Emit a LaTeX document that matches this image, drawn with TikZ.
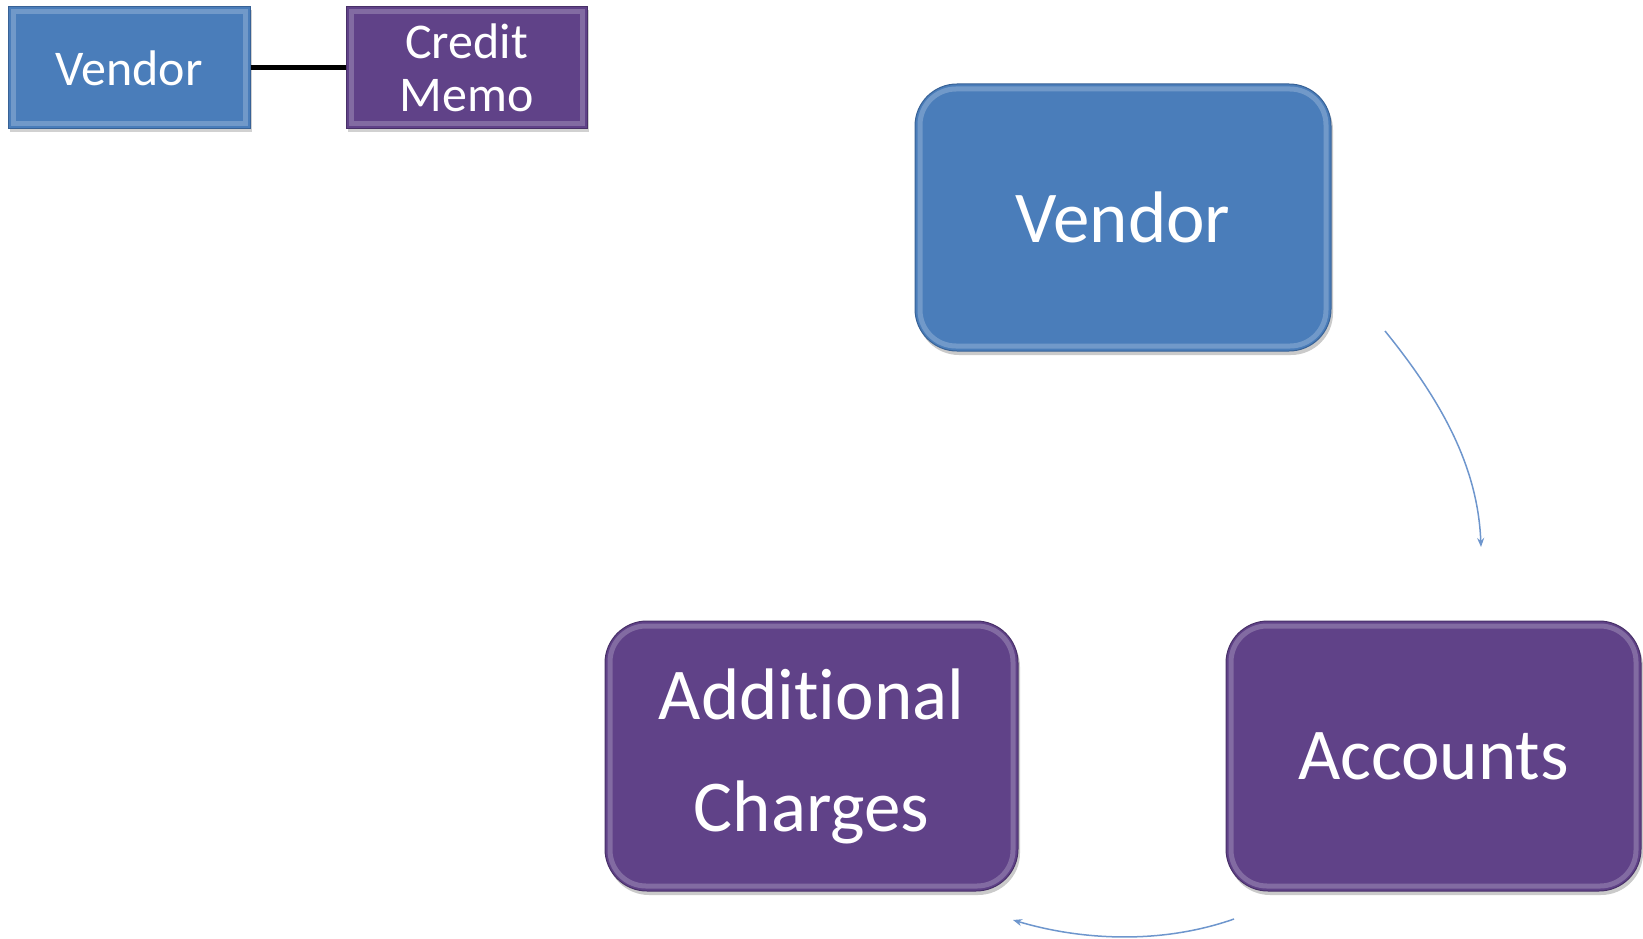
\documentclass[tikz,border=0pt]{standalone}
\usepackage{fontspec}
\setmainfont[Ligatures={NoCommon}]{Carlito}
\usetikzlibrary{arrows.meta,shadows}
\definecolor{boxblue}{RGB}{74,125,186}
\definecolor{boxblueedge}{RGB}{56,98,150}
\definecolor{boxpurple}{RGB}{96,66,136}
\definecolor{boxpurpleedge}{RGB}{72,48,104}
\definecolor{arrowblue}{RGB}{110,150,205}
\tikzset{
  bevel/.style={path picture={
    \draw[white,opacity=.22,line width=5pt,rounded corners=#1]
      ([shift={(5pt,-5pt)}]path picture bounding box.north west) rectangle
      ([shift={(-5pt,5pt)}]path picture bounding box.south east);}},
  bigbox/.style={rounded corners=42pt,inner sep=0pt,text=white,align=center,
    font=\fontsize{73}{112}\selectfont,bevel=36pt,
    drop shadow={shadow xshift=2pt,shadow yshift=-4pt,opacity=.35,fill=black!60}},
  smallbox/.style={inner sep=0pt,text=white,align=center,
    minimum width=242pt,minimum height=122pt,
    font=\fontsize{50}{53}\selectfont,bevel=0pt,
    drop shadow={shadow xshift=2pt,shadow yshift=-3pt,opacity=.3,fill=black!60}},
  bluebox/.style={fill=boxblue,draw=boxblueedge,line width=1pt},
  purplebox/.style={fill=boxpurple,draw=boxpurpleedge,line width=1pt},
  flow/.style={draw=arrowblue,line width=1.5pt,-{Stealth[length=9pt,width=7pt]}}
}
\begin{document}
\begin{tikzpicture}[x=1pt,y=-1pt]
\useasboundingbox (0,0) rectangle (1643,939);
% small boxes
\node[smallbox,bluebox] (sv) at (129,68) {Vendor};
\node[smallbox,purplebox,minimum width=241pt] (cm) at (466.5,68) {Credit\\Memo};
\draw[black,line width=5pt] (sv.east) -- (cm.west);
% big boxes
\node[bigbox,bluebox,minimum width=416pt,minimum height=267pt] (v) at (1123,217.5) {Vendor};
\node[bigbox,purplebox,minimum width=415pt,minimum height=270pt] (acc) at (1433.5,756) {Accounts};
\node[bigbox,purplebox,minimum width=413pt,minimum height=270pt] (add) at (811.5,756) {Additional\\Charges};
% arrows
\coordinate (a1s) at (1385,331);
\coordinate (a1e) at (1481,547);
\coordinate (a2s) at (1234,919);
\coordinate (a2e) at (1013,920);
\draw[flow] (a1s) .. controls (1445,405) and (1478,470) .. (a1e);
\draw[flow] (a2s) .. controls (1160,945) and (1080,940) .. (a2e);
\end{tikzpicture}
\end{document}
